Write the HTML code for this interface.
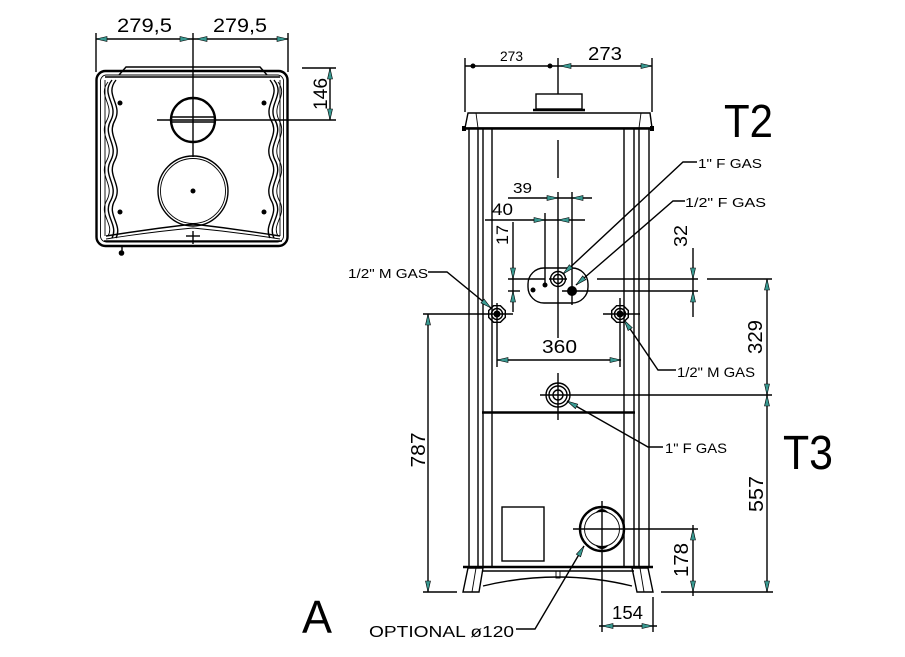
<!DOCTYPE html>
<html><head><meta charset="utf-8"><style>
html,body{margin:0;padding:0;background:#fff;}
svg{display:block;}
text{font-family:"Liberation Sans",Arial,sans-serif;fill:#000;}
.l{stroke:#000;fill:none;stroke-width:1.4;}
.t{stroke:#000;fill:none;stroke-width:2.4;}
.th{stroke:#000;fill:none;stroke-width:0.9;}
.ar{fill:#3a9a92;stroke:#000;stroke-width:0.6;}
.lab{font-size:13px;}
</style></head><body>
<svg width="905" height="657" viewBox="0 0 905 657" xmlns="http://www.w3.org/2000/svg">
<rect width="905" height="657" fill="#fff"/>

<!-- ============ TOP VIEW ============ -->
<g>
  <line class="l" x1="96" y1="39" x2="288" y2="39"/>
  <line class="l" x1="96" y1="33" x2="96" y2="72"/>
  <line class="l" x1="288" y1="33" x2="288" y2="72"/>
  <line class="l" x1="193" y1="33" x2="193" y2="157"/>
  <polygon class="ar" points="96,39 107,36.5 107,41.5"/>
  <polygon class="ar" points="191,39 180,36.5 180,41.5"/>
  <polygon class="ar" points="196,39 207,36.5 207,41.5"/>
  <polygon class="ar" points="288,39 277,36.5 277,41.5"/>
  <text x="117" y="32" font-size="19" textLength="55" lengthAdjust="spacingAndGlyphs">279,5</text>
  <text x="213" y="32" font-size="19" textLength="54" lengthAdjust="spacingAndGlyphs">279,5</text>

  <line class="l" x1="302" y1="68" x2="336" y2="68"/>
  <line class="l" x1="157" y1="120" x2="336" y2="120"/>
  <line class="l" x1="330" y1="68" x2="330" y2="120"/>
  <polygon class="ar" points="330,68 327.5,79 332.5,79"/>
  <polygon class="ar" points="330,120 327.5,109 332.5,109"/>
  <text transform="translate(327,94) rotate(-90)" text-anchor="middle" font-size="19" textLength="32" lengthAdjust="spacingAndGlyphs">146</text>

  <rect x="96.5" y="71" width="191" height="175" rx="9" class="t" stroke-width="3"/>
  <rect x="100.5" y="75" width="183" height="167" rx="6" class="th"/>
  <path class="l" d="M119,75 L126,67 L260,67 L267,75"/>
  <line class="l" x1="105" y1="77" x2="280" y2="77"/>
  <line class="th" x1="105" y1="80" x2="105" y2="236"/>
  <line class="th" x1="280" y1="80" x2="280" y2="236"/>
  <path class="l" stroke-width="2" d="M112,80 C100,95 119,104 111,120 C102,136 119,144 111,160 C102,176 119,184 111,200 C102,215 119,224 112,238"/>
  <path class="l" d="M116,80 C104,95 123,104 115,120 C106,136 123,144 115,160 C106,176 123,184 115,200 C106,215 123,224 116,238"/>
  <path class="th" d="M108,82 C97,96 115,104 107,120 C98,136 115,144 107,160 C98,176 115,184 107,200 C98,215 115,224 108,236"/>
  <path class="l" stroke-width="2" d="M274,80 C286,95 267,104 275,120 C284,136 267,144 275,160 C284,176 267,184 275,200 C284,215 267,224 274,238"/>
  <path class="l" d="M270,80 C282,95 263,104 271,120 C280,136 263,144 271,160 C280,176 263,184 271,200 C280,215 263,224 270,238"/>
  <path class="th" d="M278,82 C289,96 271,104 279,120 C288,136 271,144 279,160 C288,176 271,184 279,200 C288,215 271,224 278,236"/>
  <path class="l" d="M106,236 Q150,229 193,224 Q236,229 280,236"/>
  <path class="th" d="M106,239 Q150,232 193,228 Q236,232 280,239"/>
  <line class="l" x1="104" y1="241" x2="282" y2="241"/>
  <line class="l" x1="186" y1="236" x2="200" y2="236"/>
  <line class="l" x1="193" y1="231" x2="193" y2="244"/>
  <circle cx="193" cy="120" r="22" class="t" stroke-width="5"/>
  <line class="l" x1="172" y1="117" x2="214" y2="117" stroke-width="1.8"/>
  <line class="l" x1="172" y1="122" x2="214" y2="122" stroke-width="1.8"/>
  <circle cx="193" cy="191" r="35" class="l" stroke-width="2"/>
  <circle cx="193" cy="191" r="32.5" class="th"/>
  <circle cx="193" cy="191" r="2.5" fill="#000"/>
  <circle cx="120" cy="103" r="2.5" fill="#000"/>
  <circle cx="264" cy="103" r="2.5" fill="#000"/>
  <circle cx="120" cy="212" r="2.5" fill="#000"/>
  <circle cx="264" cy="212" r="2.5" fill="#000"/>
  <line class="l" x1="122" y1="246" x2="122" y2="251"/>
  <circle cx="121.5" cy="253" r="2.8" fill="#000"/>
</g>

<!-- ============ FRONT VIEW ============ -->
<g>
  <line class="l" x1="465" y1="66" x2="652" y2="66"/>
  <line class="l" x1="465" y1="58" x2="465" y2="112"/>
  <line class="l" x1="652" y1="58" x2="652" y2="112"/>
  <line class="l" x1="558" y1="58" x2="558" y2="94"/>
  <circle cx="473" cy="66" r="2.5" fill="#000"/>
  <circle cx="550" cy="66" r="2.5" fill="#000"/>
  <polygon class="ar" points="560,66 571,63.5 571,68.5"/>
  <polygon class="ar" points="652,66 641,63.5 641,68.5"/>
  <text x="500" y="61" font-size="14" textLength="23" lengthAdjust="spacingAndGlyphs">273</text>
  <text x="588" y="60" font-size="18" textLength="34" lengthAdjust="spacingAndGlyphs">273</text>
  <text x="724" y="137" font-size="46" textLength="49" lengthAdjust="spacingAndGlyphs">T2</text>

  <rect x="536" y="94" width="46" height="15" class="l"/>
  <line x1="533" y1="110" x2="585" y2="110" class="t" stroke-width="3"/>
  <path class="l" d="M468,113 L650,113 L652,128 L465,128 Z"/>
  <line class="t" x1="464" y1="128.5" x2="653" y2="128.5" stroke-width="3"/>
  <line class="th" x1="476" y1="113" x2="478" y2="128"/>
  <line class="th" x1="641" y1="113" x2="639" y2="128"/>
  <rect x="462" y="126" width="4" height="5" fill="#000"/>
  <rect x="650" y="126" width="4" height="5" fill="#000"/>

  <line class="l" x1="469" y1="129" x2="469" y2="567"/>
  <line class="l" x1="478" y1="129" x2="478" y2="567"/>
  <line class="l" x1="483" y1="129" x2="483" y2="567"/>
  <line class="l" x1="492" y1="129" x2="492" y2="567" stroke-width="1.8"/>
  <line class="l" x1="624" y1="129" x2="624" y2="567" stroke-width="1.8"/>
  <line class="l" x1="634" y1="129" x2="634" y2="567"/>
  <line class="l" x1="639" y1="129" x2="639" y2="567"/>
  <line class="l" x1="649" y1="129" x2="649" y2="567"/>

  <line class="t" x1="482" y1="412.5" x2="635" y2="412.5" stroke-width="2"/>

  <line class="t" x1="463" y1="567" x2="653" y2="567" stroke-width="2.4"/>
  <line class="l" x1="483" y1="571" x2="634" y2="571"/>
  <path class="l" d="M483,586 Q558,568 632,586"/>
  <rect x="556" y="571" width="4" height="7" class="th"/>
  <path class="l" stroke-width="1.8" d="M468,568 L483,568 L479,592 L463,592 Z"/>
  <line class="th" x1="476" y1="568" x2="472" y2="592"/>
  <path class="l" stroke-width="1.8" d="M632,568 L648,568 L653,592 L637,592 Z"/>
  <line class="th" x1="640" y1="568" x2="644" y2="592"/>

  <rect x="502" y="507" width="42" height="54" class="l"/>

  <line class="l" x1="573" y1="529" x2="698" y2="529"/>
  <line class="l" x1="602" y1="501" x2="602" y2="632"/>
  <circle cx="602" cy="529" r="22" class="t" stroke-width="4"/>
  <circle cx="602" cy="529" r="17.5" class="th"/>
  <path d="M596,512 Q602,506 608,512 Z" fill="#000"/>
  <path d="M596,546 Q602,552 608,546 Z" fill="#000"/>

  <line class="l" x1="558" y1="140" x2="558" y2="178"/>
  <line class="l" x1="558" y1="192" x2="558" y2="338"/>
  <line class="l" x1="558" y1="373" x2="558" y2="420"/>

  <rect x="528" y="268" width="60" height="35" rx="16" class="l"/>
  <circle cx="558" cy="279" r="7.5" class="l" stroke-width="1.8"/>
  <circle cx="558" cy="279" r="4.5" class="l" stroke-width="1.5"/>
  <circle cx="572" cy="291" r="5" fill="#000"/>
  <circle cx="545" cy="285" r="2.5" fill="#000"/>
  <circle cx="533" cy="290" r="2.5" fill="#000"/>

  <line class="l" x1="508" y1="198" x2="592" y2="198"/>
  <line class="l" x1="572" y1="192" x2="572" y2="305"/>
  <polygon class="ar" points="558,198 547,195.5 547,200.5"/>
  <polygon class="ar" points="572,198 583,195.5 583,200.5"/>
  <text x="513" y="193" font-size="15" textLength="19" lengthAdjust="spacingAndGlyphs">39</text>

  <line class="l" x1="485" y1="220" x2="585" y2="220"/>
  <line class="l" x1="545" y1="213" x2="545" y2="285"/>
  <polygon class="ar" points="545,220 534,217.5 534,222.5"/>
  <polygon class="ar" points="558,220 569,217.5 569,222.5"/>
  <text x="492" y="215" font-size="17" textLength="21" lengthAdjust="spacingAndGlyphs">40</text>

  <line class="l" x1="513" y1="222" x2="513" y2="312"/>
  <polygon class="ar" points="513,279 510.5,268 515.5,268"/>
  <polygon class="ar" points="513,291 510.5,302 515.5,302"/>
  <text transform="translate(508,235) rotate(-90)" text-anchor="middle" font-size="17" textLength="20" lengthAdjust="spacingAndGlyphs">17</text>

  <line class="l" x1="508" y1="279" x2="545" y2="279"/>
  <line class="l" x1="549" y1="279" x2="567" y2="279"/>
  <line class="l" x1="597" y1="279" x2="698" y2="279"/>
  <line class="l" x1="707" y1="279" x2="772" y2="279"/>
  <line class="l" x1="508" y1="291" x2="520" y2="291"/>
  <line class="l" x1="562" y1="291" x2="698" y2="291"/>

  <line class="l" x1="693" y1="248" x2="693" y2="317"/>
  <polygon class="ar" points="693,279 690.5,268 695.5,268"/>
  <polygon class="ar" points="693,291 690.5,302 695.5,302"/>
  <text transform="translate(687,236) rotate(-90)" text-anchor="middle" font-size="18" textLength="22" lengthAdjust="spacingAndGlyphs">32</text>

  <line class="l" x1="423" y1="314" x2="513" y2="314"/>
  <line class="l" x1="497" y1="303" x2="497" y2="367"/>
  <polygon class="l" points="505.3,317.4 500.4,322.3 493.6,322.3 488.7,317.4 488.7,310.6 493.6,305.7 500.4,305.7 505.3,310.6"/>
  <circle cx="497" cy="314" r="5.5" class="l"/>
  <circle cx="497" cy="314" r="3.5" fill="#000"/>

  <line class="l" x1="603" y1="314" x2="640" y2="314"/>
  <line class="l" x1="620" y1="298" x2="620" y2="367"/>
  <polygon class="l" points="628.3,317.4 623.4,322.3 616.6,322.3 611.7,317.4 611.7,310.6 616.6,305.7 623.4,305.7 628.3,310.6"/>
  <circle cx="620" cy="314" r="5.5" class="l"/>
  <circle cx="620" cy="314" r="3.5" fill="#000"/>

  <line class="l" x1="497" y1="360" x2="621" y2="360"/>
  <polygon class="ar" points="497,360 508,357.5 508,362.5"/>
  <polygon class="ar" points="621,360 610,357.5 610,362.5"/>
  <text x="542" y="353" font-size="18" textLength="35" lengthAdjust="spacingAndGlyphs">360</text>

  <line class="l" x1="540" y1="395" x2="772" y2="395"/>
  <circle cx="558" cy="395" r="12" class="l"/>
  <circle cx="558" cy="395" r="9" class="l" stroke-width="2"/>
  <circle cx="558" cy="395" r="5" class="l" stroke-width="2.5"/>

  <line class="l" x1="428" y1="314" x2="428" y2="592"/>
  <line class="l" x1="423" y1="592" x2="457" y2="592"/>
  <polygon class="ar" points="428,314 425.5,325 430.5,325"/>
  <polygon class="ar" points="428,592 425.5,581 430.5,581"/>
  <text transform="translate(425,450) rotate(-90)" text-anchor="middle" font-size="20" textLength="35" lengthAdjust="spacingAndGlyphs">787</text>

  <line class="l" x1="767" y1="279" x2="767" y2="592"/>
  <polygon class="ar" points="767,279 764.5,290 769.5,290"/>
  <polygon class="ar" points="767,395 764.5,384 769.5,384"/>
  <polygon class="ar" points="767,395 764.5,406 769.5,406"/>
  <polygon class="ar" points="767,592 764.5,581 769.5,581"/>
  <text transform="translate(762,337) rotate(-90)" text-anchor="middle" font-size="20" textLength="34" lengthAdjust="spacingAndGlyphs">329</text>
  <text transform="translate(763,494) rotate(-90)" text-anchor="middle" font-size="20" textLength="36" lengthAdjust="spacingAndGlyphs">557</text>
  <text x="783" y="469" font-size="48" textLength="50" lengthAdjust="spacingAndGlyphs">T3</text>

  <line class="l" x1="661" y1="592" x2="773" y2="592"/>
  <line class="l" x1="693" y1="525" x2="693" y2="596"/>
  <polygon class="ar" points="693,529 690.5,540 695.5,540"/>
  <polygon class="ar" points="693,592 690.5,581 695.5,581"/>
  <text transform="translate(688,560) rotate(-90)" text-anchor="middle" font-size="20" textLength="34" lengthAdjust="spacingAndGlyphs">178</text>

  <line class="l" x1="653" y1="597" x2="653" y2="632"/>
  <line class="l" x1="599" y1="626" x2="657" y2="626"/>
  <polygon class="ar" points="602,626 613,623.5 613,628.5"/>
  <polygon class="ar" points="653,626 642,623.5 642,628.5"/>
  <text x="612" y="619" font-size="18" textLength="31" lengthAdjust="spacingAndGlyphs">154</text>

  <path class="l" d="M697,162 L683,162 L563,274"/>
  <polygon class="ar" points="563,274 572.7,268.3 569.3,264.7"/>
  <text x="698" y="168" class="lab" textLength="64" lengthAdjust="spacingAndGlyphs">1" F GAS</text>

  <path class="l" d="M685,201 L673,201 L576,285"/>
  <polygon class="ar" points="576,285 585.9,279.7 582.7,275.9"/>
  <text x="685" y="207" class="lab" textLength="81" lengthAdjust="spacingAndGlyphs">1/2" F GAS</text>

  <path class="l" d="M428,272 L447,272 L491,308"/>
  <polygon class="ar" points="491,308 480.9,302.9 484.1,299.1"/>
  <text x="348" y="278" class="lab" textLength="80" lengthAdjust="spacingAndGlyphs">1/2" M GAS</text>

  <path class="l" d="M676,370 L658,370 L624,320"/>
  <polygon class="ar" points="624,320 632.3,327.7 628.1,330.5"/>
  <text x="677" y="377" font-size="14" textLength="78" lengthAdjust="spacingAndGlyphs">1/2" M GAS</text>

  <path class="l" d="M663,447 L648,447 L567,401"/>
  <polygon class="ar" points="567,401 577.8,404.2 575.4,408.6"/>
  <text x="665" y="453" font-size="14" textLength="62" lengthAdjust="spacingAndGlyphs">1" F GAS</text>

  <path class="l" d="M516,629 L535,629 L584,546"/>
  <polygon class="ar" points="584,546 580.6,556.8 576.3,554.2"/>
  <text x="369" y="637" font-size="16" textLength="145" lengthAdjust="spacingAndGlyphs">OPTIONAL ø120</text>

  <text x="302" y="633" font-size="46" textLength="30" lengthAdjust="spacingAndGlyphs">A</text>
</g>
</svg>
</body></html>
